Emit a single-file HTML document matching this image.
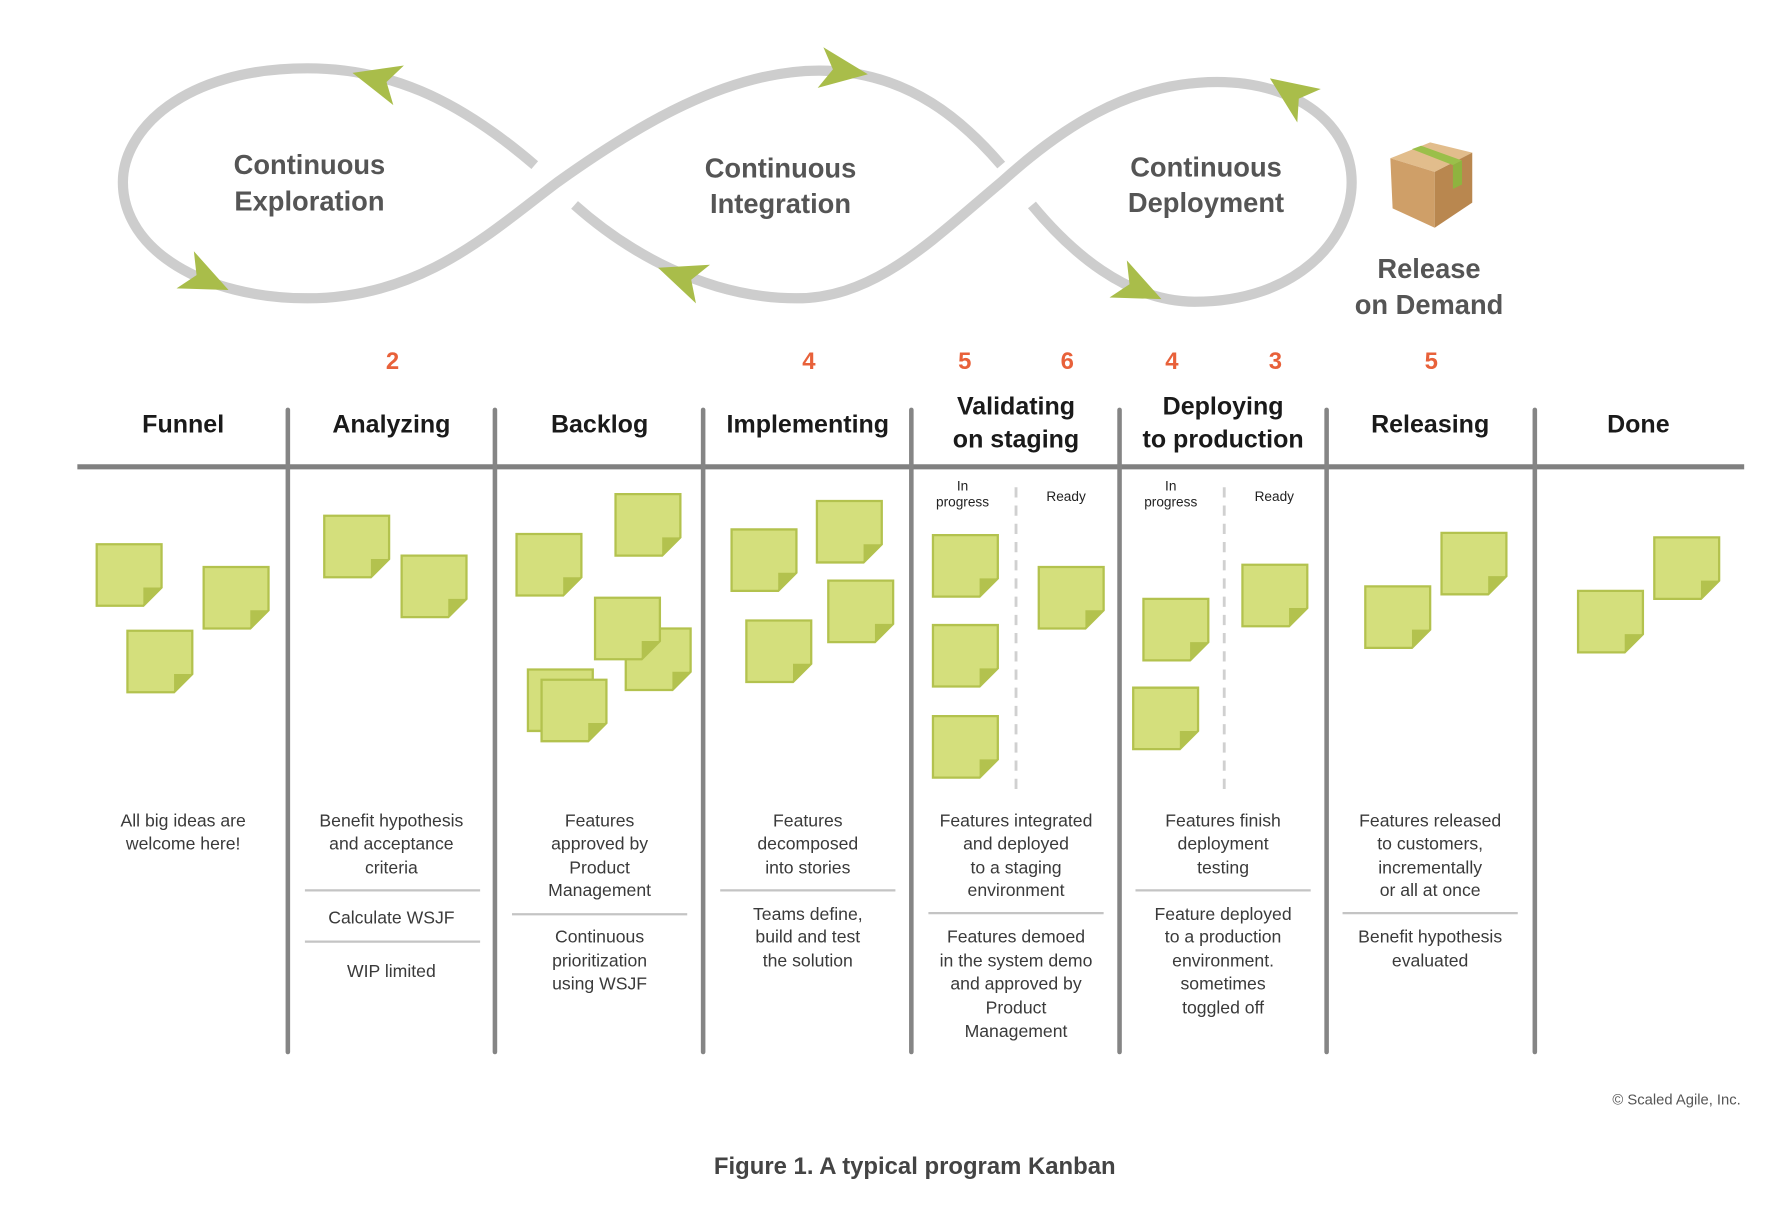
<!DOCTYPE html>
<html><head><meta charset="utf-8"><style>
html,body{margin:0;padding:0;background:#fff;}
svg{display:block;}
text{font-family:"Liberation Sans",sans-serif;}
.h{font-size:22px;font-weight:bold;fill:#1a1a1a;text-anchor:middle;}
.n{font-size:21px;font-weight:bold;fill:#e8613a;text-anchor:middle;}
.d{font-size:15.5px;fill:#3a3a3a;text-anchor:middle;}
.s{font-size:12px;fill:#222;text-anchor:middle;}
.L{font-size:24px;font-weight:bold;fill:#555;text-anchor:middle;}
</style></head><body>
<svg width="1784" height="1208" viewBox="0 0 1568 1061" preserveAspectRatio="none" xmlns="http://www.w3.org/2000/svg">
<defs>
<g id="note"><path d="M0 0 H57 V38 L41 54 H0 Z" fill="#d4df7c" stroke="#b3c24e" stroke-width="2"/><path d="M57 38 L41 38 L41 54 Z" fill="#b3c24e"/></g>
<path id="arr" d="M23 0 L-19 -18 L-8 0 L-19 18 Z" fill="#a9bd4a"/>
</defs>
<g fill="none" stroke="#cdcdcd" stroke-width="9">
<path d="M470 145 C400 85 340 60 270 60 C160 60 108 115 108 160 C108 220 180 262 270 262 C370 262 430 205 490 160 C560 110 640 62 720 62 C800 62 850 110 880 145"/>
<path d="M907 180 C940 220 990 265 1050 265 C1140 265 1188 210 1188 160 C1188 110 1140 72 1070 72 C990 72 930 115 880 160 C820 210 770 262 700 262 C620 262 550 220 505 180"/>
</g>
<use href="#arr" transform="translate(332,70) rotate(195)"/>
<use href="#arr" transform="translate(740,62) rotate(8)"/>
<use href="#arr" transform="translate(1135,82) rotate(215)"/>
<use href="#arr" transform="translate(180,245) rotate(25)"/>
<use href="#arr" transform="translate(600,243) rotate(200)"/>
<use href="#arr" transform="translate(1000,253) rotate(25)"/>
<text class="L" x="272" y="153">Continuous</text><text class="L" x="272" y="185">Exploration</text>
<text class="L" x="686" y="156">Continuous</text><text class="L" x="686" y="187">Integration</text>
<text class="L" x="1060" y="155">Continuous</text><text class="L" x="1060" y="186">Deployment</text>
<polygon points="1222,139 1257,125 1294,134 1261,151" fill="#e2bd8c"/>
<polygon points="1222,139 1261,151 1261,200 1224,183" fill="#cf9f68"/>
<polygon points="1261,151 1294,134 1294,178 1261,200" fill="#b9874f"/>
<polygon points="1241,131 1249,128 1285,141 1277,145" fill="#9bbf4a"/>
<polygon points="1277,145 1285,141 1285,162 1277,166" fill="#8fb33f"/>
<text class="L" x="1256" y="244">Release</text><text class="L" x="1256" y="276">on Demand</text>
<g class="n"><text x="345" y="324">2</text><text x="711" y="324">4</text><text x="848" y="324">5</text><text x="938" y="324">6</text><text x="1030" y="324">4</text><text x="1121" y="324">3</text><text x="1258" y="324">5</text></g>
<g class="h"><text x="161" y="380">Funnel</text><text x="344" y="380">Analyzing</text><text x="527" y="380">Backlog</text><text x="710" y="380">Implementing</text>
<text x="893" y="364">Validating</text><text x="893" y="393">on staging</text>
<text x="1075" y="364">Deploying</text><text x="1075" y="393">to production</text>
<text x="1257" y="380">Releasing</text><text x="1440" y="380">Done</text></g>
<line x1="68" y1="410" x2="1533" y2="410" stroke="#808080" stroke-width="4.5"/>
<g stroke="#858585" stroke-width="4" stroke-linecap="round">
<line x1="253" y1="360" x2="253" y2="924"/><line x1="435" y1="360" x2="435" y2="924"/><line x1="618" y1="360" x2="618" y2="924"/><line x1="801" y1="360" x2="801" y2="924"/><line x1="984" y1="360" x2="984" y2="924"/><line x1="1166" y1="360" x2="1166" y2="924"/><line x1="1349" y1="360" x2="1349" y2="924"/></g>
<g stroke="#d0d0d0" stroke-width="2.5" stroke-dasharray="9,7"><line x1="893" y1="428" x2="893" y2="695"/><line x1="1076" y1="428" x2="1076" y2="695"/></g>
<g class="s"><text x="846" y="431">In</text><text x="846" y="445">progress</text><text x="937" y="440">Ready</text>
<text x="1029" y="431">In</text><text x="1029" y="445">progress</text><text x="1120" y="440">Ready</text></g>
<use href="#note" x="85" y="478"/><use href="#note" x="179" y="498"/><use href="#note" x="112" y="554"/>
<use href="#note" x="285" y="453"/><use href="#note" x="353" y="488"/>
<use href="#note" x="454" y="469"/><use href="#note" x="541" y="434"/><use href="#note" x="550" y="552"/><use href="#note" x="523" y="525"/><use href="#note" x="464" y="588"/><use href="#note" x="476" y="597"/>
<use href="#note" x="643" y="465"/><use href="#note" x="718" y="440"/><use href="#note" x="728" y="510"/><use href="#note" x="656" y="545"/>
<use href="#note" x="820" y="470"/><use href="#note" x="820" y="549"/><use href="#note" x="820" y="629"/><use href="#note" x="913" y="498"/>
<use href="#note" x="1005" y="526"/><use href="#note" x="996" y="604"/><use href="#note" x="1092" y="496"/>
<use href="#note" x="1200" y="515"/><use href="#note" x="1267" y="468"/>
<use href="#note" x="1387" y="519"/><use href="#note" x="1454" y="472"/>
<g stroke="#c4c4c4" stroke-width="2">
<line x1="268" y1="782" x2="422" y2="782"/><line x1="268" y1="827" x2="422" y2="827"/>
<line x1="450" y1="803" x2="604" y2="803"/><line x1="633" y1="782" x2="787" y2="782"/>
<line x1="816" y1="802" x2="970" y2="802"/><line x1="998" y1="782" x2="1152" y2="782"/>
<line x1="1180" y1="802" x2="1334" y2="802"/></g>
<g class="d">
<text x="161" y="726">All big ideas are</text><text x="161" y="746">welcome here!</text>
<text x="344" y="726">Benefit hypothesis</text><text x="344" y="746">and acceptance</text><text x="344" y="767">criteria</text><text x="344" y="811">Calculate WSJF</text><text x="344" y="858">WIP limited</text>
<text x="527" y="726">Features</text><text x="527" y="746">approved by</text><text x="527" y="767">Product</text><text x="527" y="787">Management</text><text x="527" y="828">Continuous</text><text x="527" y="849">prioritization</text><text x="527" y="869">using WSJF</text>
<text x="710" y="726">Features</text><text x="710" y="746">decomposed</text><text x="710" y="767">into stories</text><text x="710" y="808">Teams define,</text><text x="710" y="828">build and test</text><text x="710" y="849">the solution</text>
<text x="893" y="726">Features integrated</text><text x="893" y="746">and deployed</text><text x="893" y="767">to a staging</text><text x="893" y="787">environment</text><text x="893" y="828">Features demoed</text><text x="893" y="849">in the system demo</text><text x="893" y="869">and approved by</text><text x="893" y="890">Product</text><text x="893" y="911">Management</text>
<text x="1075" y="726">Features finish</text><text x="1075" y="746">deployment</text><text x="1075" y="767">testing</text><text x="1075" y="808">Feature deployed</text><text x="1075" y="828">to a production</text><text x="1075" y="849">environment.</text><text x="1075" y="869">sometimes</text><text x="1075" y="890">toggled off</text>
<text x="1257" y="726">Features released</text><text x="1257" y="746">to customers,</text><text x="1257" y="767">incrementally</text><text x="1257" y="787">or all at once</text><text x="1257" y="828">Benefit hypothesis</text><text x="1257" y="849">evaluated</text>
</g>
<text x="1530" y="970" font-size="13" fill="#555" text-anchor="end">© Scaled Agile, Inc.</text>
<text x="804" y="1031" font-size="21" font-weight="bold" fill="#444" text-anchor="middle">Figure 1. A typical program Kanban</text>
</svg>
</body></html>
